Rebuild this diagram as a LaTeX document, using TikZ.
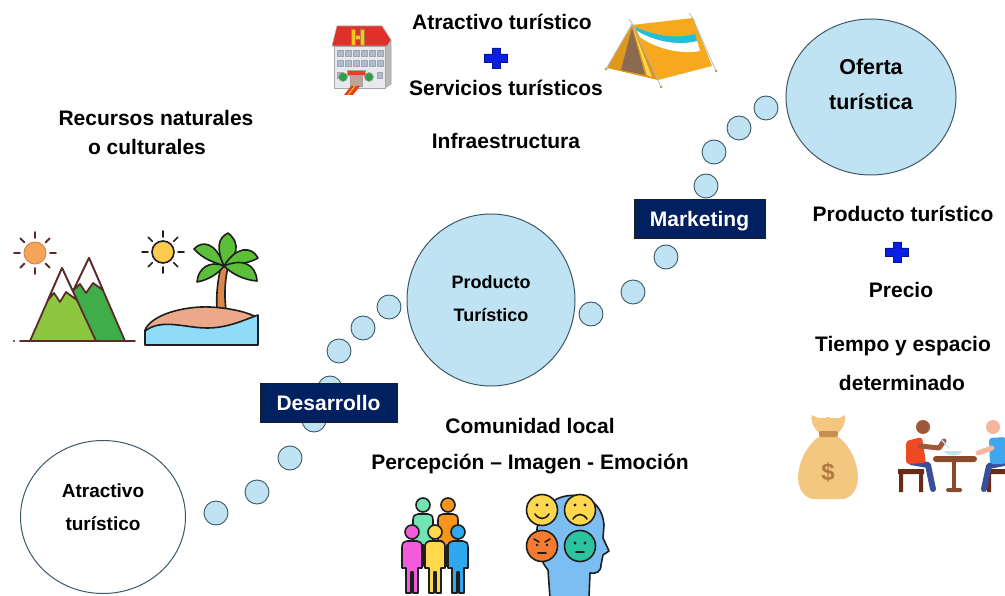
\documentclass[tikz,border=0pt]{standalone}
\usepackage{fontspec}
\setmainfont{Liberation Sans}
\usepackage{xcolor}
\usetikzlibrary{shapes.geometric, positioning}

\definecolor{dotblue}{HTML}{BFE3F3}
\definecolor{rimgrey}{HTML}{3E5866}
\definecolor{navy}{HTML}{002060}
\definecolor{plusblue}{HTML}{0A1EE6}
\definecolor{ink}{HTML}{1E1E1E}
\definecolor{inkbrown}{HTML}{5A2B2B}
\definecolor{sunorange}{HTML}{F6A35B}
\definecolor{sunyellow}{HTML}{FFCB4C}
\definecolor{lightgreen}{HTML}{8DC63F}
\definecolor{darkgreen}{HTML}{3FAE49}
\definecolor{leafgreen}{HTML}{5CBF3A}
\definecolor{trunk}{HTML}{D9874A}
\definecolor{sand}{HTML}{EBA98A}
\definecolor{sea}{HTML}{8EDCF8}
\definecolor{tentorange}{HTML}{F6A91E}
\definecolor{tentdoor}{HTML}{8C6A50}
\definecolor{tentcyan}{HTML}{1EC0DC}
\definecolor{roofred}{HTML}{E0302A}
\definecolor{hyellow}{HTML}{F5C518}
\definecolor{wallgrey}{HTML}{E8E9EE}
\definecolor{window}{HTML}{A9BCD0}
\definecolor{treegreen}{HTML}{2EA043}
\definecolor{mint}{HTML}{72E3B3}
\definecolor{porange}{HTML}{F7941D}
\definecolor{magenta}{HTML}{F25CDB}
\definecolor{pyellow}{HTML}{FFD84D}
\definecolor{pblue}{HTML}{2FA8F0}
\definecolor{headblue}{HTML}{7DBEF2}
\definecolor{faceorange}{HTML}{F77B2E}
\definecolor{faceteal}{HTML}{2BC4A0}
\definecolor{bag}{HTML}{F3C77F}
\definecolor{bagband}{HTML}{C8904E}
\definecolor{bagsign}{HTML}{B07A40}
\definecolor{stool}{HTML}{6B2A15}
\definecolor{tablebrown}{HTML}{8B4A2B}
\definecolor{jeans}{HTML}{3A4E9A}
\definecolor{shirtred}{HTML}{F04A24}
\definecolor{shirtblue}{HTML}{3FA6F0}
\definecolor{skindark}{HTML}{A0583A}
\definecolor{skinlight}{HTML}{F6B59C}
\definecolor{bowl}{HTML}{BFE6EE}

\begin{document}
\begin{tikzpicture}[
    x=1pt, y=-1pt,
    txt/.style={font=\fontsize{21}{25}\selectfont\bfseries, inner sep=0pt, anchor=base},
    stagetxt/.style={font=\fontsize{18}{22}\selectfont\bfseries, inner sep=0pt, anchor=base},
    stage/.style={ellipse, draw=rimgrey, line width=1pt, fill=dotblue, inner sep=0pt},
    stepdot/.style={circle, draw=rimgrey, line width=0.9pt, fill=dotblue, minimum size=24pt, inner sep=0pt},
    tag/.style={draw=ink, fill=navy, text=white, font=\fontsize{21}{25}\selectfont\bfseries,
        minimum width=137pt, minimum height=39pt, inner sep=0pt, text height=15pt, text depth=0pt},
    icon/.style={draw=ink, line width=1.6pt, line join=round, line cap=round},
    bluecross/.pic={
        \filldraw[fill=plusblue, draw=navy!70!blue, line width=0.8pt]
            (-4,-10) -- (4,-10) -- (4,-4) -- (11.5,-4) -- (11.5,4) -- (4,4) -- (4,10)
            -- (-4,10) -- (-4,4) -- (-11.5,4) -- (-11.5,-4) -- (-4,-4) -- cycle;
    },
    pics/person/.style={code={
        \filldraw[fill=#1] (-10,20) -- (-10,15) .. controls (-10,11) and (-8,9) .. (-5,9) -- (5,9)
            .. controls (8,9) and (10,11) .. (10,15) -- (10,36) -- (6,36) -- (6,61) -- (1,61)
            -- (1,40) -- (-1,40) -- (-1,61) -- (-6,61) -- (-6,36) -- (-10,36) -- cycle;
        \filldraw[fill=#1] (0,0) circle (7);
    }},
]
\useasboundingbox (0,0) rectangle (1005,596);

% stepping stones
\foreach \x/\y [count=\i] in {216/513, 257/492, 290/458, 314/420, 330/388, 339/351, 363/328, 389/307,
                              591/314, 633/292, 666/257, 706/186, 714/152, 739/128, 766/108}
    \node[stepdot] (dot\i) at (\x,\y) {};

% stages
\node[stage, fill=white, minimum width=165pt, minimum height=153pt] (atractivo) at (103,517) {};
\node[stage, minimum width=168pt, minimum height=172pt] (producto) at (491,300) {};
\node[stage, minimum width=170pt, minimum height=156pt] (oferta) at (871,97) {};

\node[stagetxt, font=\fontsize{19}{22}\selectfont\bfseries] (atractivo-a) at (103,497) {Atractivo};
\node[stagetxt, font=\fontsize{19}{22}\selectfont\bfseries] (atractivo-b) at (103,530) {turístico};
\node[stagetxt] (producto-a) at (491,289) {Producto};
\node[stagetxt] (producto-b) at (491,322) {Turístico};
\node[txt, font=\fontsize{21.5}{25}\selectfont\bfseries] (oferta-a) at (871,75) {Oferta};
\node[txt, font=\fontsize{21.5}{25}\selectfont\bfseries] (oferta-b) at (871,110) {turística};

\node[tag] (desarrollo) at (328.5,402.5) {Desarrollo};
\node[tag, minimum width=131pt] (marketing) at (699.5,219) {Marketing};

% labels
\node[txt] (recursos-a) at (156,126) {Recursos naturales};
\node[txt] (recursos-b) at (147,155) {o culturales};
\node[txt] (atr) at (502,30) {Atractivo turístico};
\pic at (496,58) {bluecross};
\node[txt] (serv) at (506,96) {Servicios turísticos};
\node[txt] (infra) at (506,149) {Infraestructura};
\node[txt] (prod) at (903,222) {Producto turístico};
\pic at (897,252) {bluecross};
\node[txt] (precio) at (901,298) {Precio};
\node[txt] (tiempo-a) at (903,352) {Tiempo y espacio};
\node[txt] (tiempo-b) at (902,390) {determinado};
\node[txt] (comunidad) at (530,433) {Comunidad local};
\node[txt] (percepcion) at (530,469) {Percepción – Imagen - Emoción};

% mountains
\begin{scope}[icon, draw=inkbrown, line width=1.8pt]
    \foreach \a in {0,45,...,315}
        \draw ([shift={(\a:15)}]35,253) -- ([shift={(\a:21)}]35,253);
    \filldraw[fill=sunorange, draw=sunorange!85!black, line width=1pt] (35,253) circle (11);
    \filldraw[fill=darkgreen] (89,258) -- (125,341) -- (49,341) -- cycle;
    \filldraw[fill=white] (89,258) -- (73.6,290) -- (80,284) -- (86,293) -- (93,283) -- (102.9,290) -- cycle;
    \filldraw[fill=lightgreen] (62,268) -- (96,341) -- (30,341) -- cycle;
    \filldraw[fill=white] (62,268) -- (48,300) -- (54,293) -- (60,302) -- (66,292) -- (76.9,300) -- cycle;
    \draw (20,341) -- (135,341);
    \fill[inkbrown] (14,341) circle (1.2);
\end{scope}

% island
\begin{scope}[icon]
    \foreach \a in {0,45,...,315}
        \draw ([shift={(\a:15)}]163,252) -- ([shift={(\a:21)}]163,252);
    \filldraw[fill=sunyellow] (163,252) circle (11);
    \filldraw[fill=trunk] (217,310) .. controls (216,292) and (218,280) .. (221,266) -- (228,267)
        .. controls (225,280) and (224,294) .. (226,310) -- cycle;
    \filldraw[fill=leafgreen] (224,266) .. controls (216,242) and (202,240) .. (194,249) .. controls (204,260) and (214,262) .. cycle;
    \filldraw[fill=leafgreen] (224,266) .. controls (216,248) and (218,238) .. (228,233) .. controls (242,244) and (236,258) .. cycle;
    \filldraw[fill=leafgreen] (224,266) .. controls (236,246) and (252,246) .. (258,258) .. controls (248,264) and (236,264) .. cycle;
    \filldraw[fill=leafgreen] (224,266) .. controls (242,258) and (256,264) .. (257,281) .. controls (244,280) and (232,274) .. cycle;
    \filldraw[fill=leafgreen] (224,266) .. controls (210,260) and (198,268) .. (197,282) .. controls (208,280) and (218,274) .. cycle;
    \filldraw[fill=sand] (145,330) .. controls (152,314) and (185,306) .. (210,307)
        .. controls (232,308) and (250,313) .. (258,318) -- (258,340) -- (145,340) -- cycle;
    \filldraw[fill=sea] (145,345) -- (145,331) .. controls (162,318) and (185,328) .. (207,328)
        .. controls (228,328) and (244,320) .. (258,315) -- (258,345) -- cycle;
\end{scope}

% hotel
\begin{scope}[draw=gray!70, line width=0.6pt]
    \filldraw[fill=gray!55] (385,46) -- (391,40) -- (391,84) -- (385,88) -- cycle;
    \filldraw[fill=wallgrey] (334,46) rectangle (385,88);
    \foreach \yy in {50,60}
        \foreach \xx in {337,345,353,361,369,377}
            \filldraw[fill=window] (\xx,\yy) rectangle ++(6,6);
    \filldraw[fill=window] (337,72) rectangle ++(5,6);
    \filldraw[fill=window] (377,72) rectangle ++(5,6);
    \filldraw[fill=roofred] (337,26) -- (382,26) -- (391,40) -- (387,46) -- (332,46) -- cycle;
    \filldraw[fill=hyellow, draw=bagsign] (351,29) rectangle (355,45) (360,29) rectangle (364,45) (355,35.5) rectangle (360,39);
    \filldraw[fill=tentdoor!60] (350,74) rectangle (362,86);
    \filldraw[fill=roofred!80!orange] (347,70) rectangle (365,75);
    \filldraw[fill=treegreen] (343,77) circle (4.5) (369,77) circle (4.5);
    \fill[roofred!80!orange] (351,86) -- (360,86) -- (353,95) -- (344,95) -- cycle;
    \draw[hyellow, line width=1pt] (355,86) -- (348,95);
\end{scope}

% tent
\begin{scope}
    \fill[tentorange] (632,25) -- (693,18) -- (712,66) -- (658,80) -- cycle;
    \fill[tentcyan] (635,27) .. controls (660,38) and (680,38) .. (695,34) -- (697,41)
        .. controls (680,46) and (655,42) .. (637,31) -- cycle;
    \fill[white] (637,31) .. controls (655,42) and (680,46) .. (697,41) -- (700,51)
        .. controls (680,55) and (655,48) .. (640,37) -- cycle;
    \fill[tentorange!90!black] (632,25) -- (607,68) -- (658,80) -- cycle;
    \fill[tentdoor] (632,28) -- (621,70) -- (645,75) -- cycle;
    \fill[pyellow] (633,28) -- (647,75) -- (652,77) -- cycle;
    \draw[gray!60, line width=0.7pt] (632,24) -- (606,69) (632,24) -- (661,87) (692,17) -- (716,71)
        (629,19) -- (635,28) (689,13) -- (695,22);
    \fill[olive!70] (606,69) circle (1.5) (661,87) circle (1.5) (716,71) circle (1.5);
\end{scope}

% people
\begin{scope}[icon, line width=1.6pt]
    \pic at (423,505) {person=mint};
    \pic at (448,505) {person=porange};
    \pic at (412,532) {person=magenta};
    \pic at (435,532) {person=pyellow};
    \pic at (458,532) {person=pblue};
\end{scope}

% head and emotions
\begin{scope}[icon, line width=1.6pt]
    \filldraw[fill=headblue] (550,598) -- (548,570) .. controls (535,555) and (530,520) .. (550,503)
        .. controls (570,488) and (602,495) .. (604,525) -- (603,538) -- (609,551) -- (603,555)
        -- (601,565) .. controls (601,572) and (596,574) .. (590,573) -- (589,598);
    \filldraw[fill=pyellow] (542,510) circle (15.5);
    \filldraw[fill=pyellow] (580,510) circle (15.5);
    \filldraw[fill=faceorange] (542,546) circle (15.5);
    \filldraw[fill=faceteal] (580,546) circle (15.5);
    \fill[ink] (537,505) circle (1.6) (547,505) circle (1.6) (575,505) circle (1.6) (585,505) circle (1.6)
        (575,543) circle (1.6) (585,543) circle (1.6) (537,545) circle (1.4) (547,545) circle (1.4);
    \draw (535,514) .. controls (539,520) and (545,520) .. (549,514);
    \draw (573,519) .. controls (577,513) and (583,513) .. (587,519);
    \draw (534,539) -- (539,542) (550,539) -- (545,542) (538,553) -- (546,553);
    \draw (576,552) -- (584,552);
\end{scope}

% money bag
\begin{scope}
    \fill[bag] (820,436) .. controls (798,450) and (788,492) .. (812,499) -- (844,499)
        .. controls (868,492) and (858,450) .. (837,436) -- cycle;
    \fill[bag] (820,434) .. controls (812,426) and (810,419) .. (812,415) .. controls (818,419) and (823,419) .. (828,417)
        .. controls (834,419) and (840,419) .. (845,415) .. controls (846,421) and (844,428) .. (837,434) -- cycle;
    \fill[bagband, rounded corners=2pt] (819,431) rectangle (838,437);
    \node[font=\fontsize{24}{26}\selectfont\bfseries, text=bagsign] (dollar) at (828,472) {\$};
\end{scope}

% two people eating
\begin{scope}
    \fill[stool] (898,469) rectangle (924,474) (899,474) rectangle (903,492) (919,474) rectangle (923,492);
    \draw[jeans, line width=6pt, line cap=round, line join=round] (911,462) -- (928,465) -- (933,489);
    \fill[shirtred, rounded corners=3pt] (906,441) -- (922,437) -- (926,463) -- (906,464) -- cycle;
    \draw[skindark, line width=5pt, line cap=round, line join=round] (920,446) -- (939,448) -- (944,441);
    \fill[skindark] (923,427) circle (7);
    \draw[bowl, line width=1.2pt] (941,439) -- (949,448);
    \fill[tablebrown, rounded corners=3pt] (933,456) rectangle (977,462);
    \fill[tablebrown] (952,462) rectangle (956,489);
    \fill[tablebrown, rounded corners=1.5pt] (946,488) rectangle (962,492);
    \fill[bowl] (944,451) -- (962,451) .. controls (959,457) and (947,457) .. (944,451) -- cycle;
    \fill[stool] (986,469) rectangle (1005,474) (987,474) rectangle (991,492);
    \draw[jeans, line width=6pt, line cap=round, line join=round] (1004,463) -- (989,466) -- (984,489);
    \fill[shirtblue, rounded corners=3pt] (989,438) -- (1006,437) -- (1006,464) -- (990,464) -- cycle;
    \draw[skinlight, line width=5pt, line cap=round] (992,448) -- (978,453);
    \fill[skinlight] (993,427) circle (7);
\end{scope}
\end{tikzpicture}
\end{document}
